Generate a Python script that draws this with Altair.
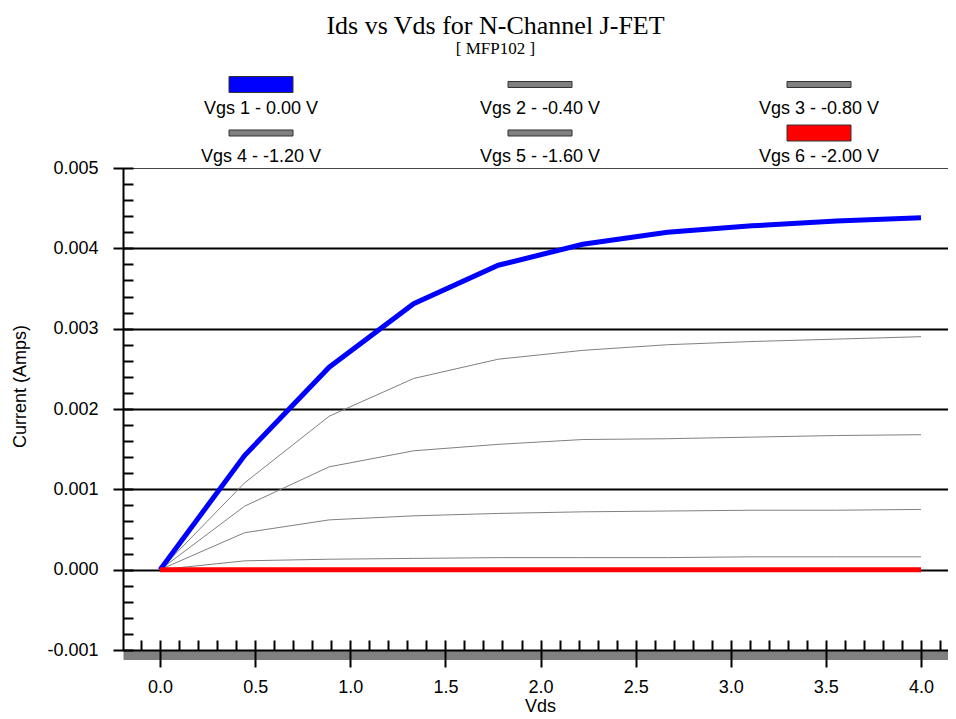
import altair as alt
import pandas as pd

# ---- data ----
vds = [0.0, 0.444, 0.889, 1.333, 1.778, 2.222, 2.667, 3.111, 3.556, 4.0]
vgs1 = [0.0, 0.00142, 0.00252, 0.00331, 0.00379, 0.00405, 0.00420, 0.00428, 0.00434, 0.00438]
vgs2 = [0.0, 0.00108, 0.00191, 0.00238, 0.00262, 0.00273, 0.00280, 0.00284, 0.00287, 0.00290]
vgs3 = [0.0, 0.00079, 0.00128, 0.00148, 0.00156, 0.00162, 0.00163, 0.00165, 0.00167, 0.00168]
vgs4 = [0.0, 0.00046, 0.00062, 0.00067, 0.00070, 0.00072, 0.00073, 0.00074, 0.00074, 0.00075]
vgs5 = [0.0, 0.00011, 0.00013, 0.00014, 0.00015, 0.00015, 0.00015, 0.00016, 0.00016, 0.00016]
vgs6 = [0.0, 0.0, 0.0, 0.0, 0.0, 0.0, 0.0, 0.0, 0.0, 0.0]

series_names = ["Vgs 1 - 0.00 V", "Vgs 2 - -0.40 V", "Vgs 3 - -0.80 V",
                "Vgs 4 - -1.20 V", "Vgs 5 - -1.60 V", "Vgs 6 - -2.00 V"]
series_colors = ["#0000ff", "#808080", "#808080", "#808080", "#808080", "#ff0000"]
series_kind = ["thick", "thin", "thin", "thin", "thin", "thick"]
legend_col = [0, 1, 2, 0, 1, 2]
legend_row = [0, 0, 0, 1, 1, 1]

x_ticks = [round(i * 0.1, 1) for i in range(-1, 42)]
y_ticks = [round(i * 0.0002, 4) for i in range(-5, 26)]

all_series = [vgs1, vgs2, vgs3, vgs4, vgs5, vgs6]
rows = []
for idx, vals in enumerate(all_series):
    for xv, yv in zip(vds, vals):
        rows.append({"vds": xv, "ids": yv, "series": idx + 1})
df = pd.DataFrame(rows)

leg = pd.DataFrame({"label": series_names, "color": series_colors,
                    "kind": series_kind, "col": legend_col, "row": legend_row})

FONT = "Liberation Sans Narrow, Liberation Sans, Arial"
W, H = 825, 482
xscale = alt.Scale(domain=[-0.195, 4.142], nice=False, zero=False)
yscale = alt.Scale(domain=[-0.001, 0.005], nice=False, zero=False)

base = alt.Chart(df)

# gray lines: carry the gray floor bar (x) and black y domain
gray = base.mark_line(color="#808080", strokeWidth=1).encode(
    x=alt.X("vds:Q", scale=xscale,
            axis=alt.Axis(orient="bottom", offset=5, domain=True, domainColor="#808080",
                          domainWidth=9, ticks=False, labels=False, grid=False, title=None)),
    y=alt.Y("ids:Q", scale=yscale,
            axis=alt.Axis(orient="left", offset=0, domain=True, domainColor="black",
                          domainWidth=2, ticks=False, labels=False, grid=False, title=None)),
    detail="series:N",
).transform_filter("datum.series >= 2 && datum.series <= 5")

major_y = "abs(datum.value*1000 - round(datum.value*1000)) < 0.01"
major_x = "abs(datum.value*2 - round(datum.value*2)) < 0.01"

blue = base.mark_line(color="#0000ff", strokeWidth=5).encode(
    x=alt.X("vds:Q", scale=xscale,
            axis=alt.Axis(orient="bottom", offset=0, domain=True, domainColor="black",
                          domainWidth=2, ticks=False, labels=False, grid=False, title=None)),
    y=alt.Y("ids:Q", scale=yscale,
            axis=alt.Axis(orient="left", offset=-10, values=y_ticks, domain=False,
                          ticks=True, tickColor="black", tickWidth=2,
                          tickSize={"condition": {"test": major_y, "value": 20}, "value": 10},
                          labelExpr="(abs(datum.value*1000 - round(datum.value*1000)) < 0.01) ? replace(format(datum.value, '.3f'), '\u2212', '-') : ''",
                          labelFont=FONT, labelFontSize=18, labelColor="black", labelPadding=15,
                          grid=True,
                          gridOpacity={"condition": {"test": major_y + " && datum.value > -0.0005", "value": 1}, "value": 0},
                          gridColor={"condition": {"test": "datum.value > 0.0045", "value": "#444444"}, "value": "black"},
                          gridWidth={"condition": {"test": "datum.value > 0.0045", "value": 1}, "value": 2},
                          title="Current (Amps)", titleFont=FONT, titleFontSize=18,
                          titleFontWeight="normal", titleColor="black", titlePadding=17,
                          titleY=218)),
).transform_filter("datum.series == 1")

red = base.mark_line(color="#ff0000", strokeWidth=5).encode(
    x=alt.X("vds:Q", scale=xscale,
            axis=alt.Axis(orient="bottom", offset=-10, values=x_ticks, domain=False,
                          ticks=True, tickColor="black", tickWidth=2,
                          tickSize={"condition": {"test": major_x, "value": 27}, "value": 10},
                          labelExpr="(abs(datum.value*2 - round(datum.value*2)) < 0.01) ? format(datum.value, '.1f') : ''",
                          labelFont=FONT, labelFontSize=18, labelColor="black", labelPadding=11,
                          grid=False, zindex=1,
                          title="Vds", titleFont=FONT, titleFontSize=18, titleFontWeight="normal",
                          titleColor="black", titlePadding=1, titleX=417)),
    y=alt.Y("ids:Q", scale=yscale, axis=None),
).transform_filter("datum.series == 6")

plot = alt.layer(gray, blue, red).resolve_axis(x="independent", y="independent")

shape_scale = alt.Scale(domain=["thick", "thin"],
                        range=["M-1,-0.25H1V0.25H-1Z", "M-1,-0.094H1V0.094H-1Z"])
lx = alt.X("col:Q", scale=alt.Scale(domain=[0, 2], range=[138, 696]), axis=None)
ly = alt.Y("row:Q", scale=alt.Scale(domain=[0, 1], range=[-83.5, -35]), axis=None)

leg_sym = alt.Chart(leg).mark_point(filled=True, size=4096, opacity=1, strokeWidth=1,
                                    stroke="#333333").encode(
    x=lx, y=ly,
    shape=alt.Shape("kind:N", scale=shape_scale, legend=None),
    color=alt.Color("color:N", scale=None),
)
leg_txt = alt.Chart(leg).mark_text(font=FONT, fontSize=18, color="black", dy=24,
                                   align="center", baseline="middle").encode(
    x=lx, y=ly, text="label:N",
)
legend_layer = alt.layer(leg_sym, leg_txt)

chart = alt.layer(plot, legend_layer).resolve_scale(
    x="independent", y="independent"
).properties(
    width=W, height=H,
    autosize=alt.AutoSizeParams(type="none"),
    padding={"left": 115, "top": 160, "right": 0, "bottom": 70},
    title=alt.Title("Ids vs Vds for N-Channel J-FET", subtitle="[ MFP102 ]",
                    font="Liberation Serif", fontSize=26, fontWeight="normal", color="black",
                    subtitleFont="Liberation Serif", subtitleFontSize=17, subtitleColor="black",
                    subtitlePadding=2, anchor="middle", dx=-40, offset=18),
).configure_view(stroke=None).configure(background="white")

chart.save("out.html", embed_options={"renderer": "svg", "actions": False})
